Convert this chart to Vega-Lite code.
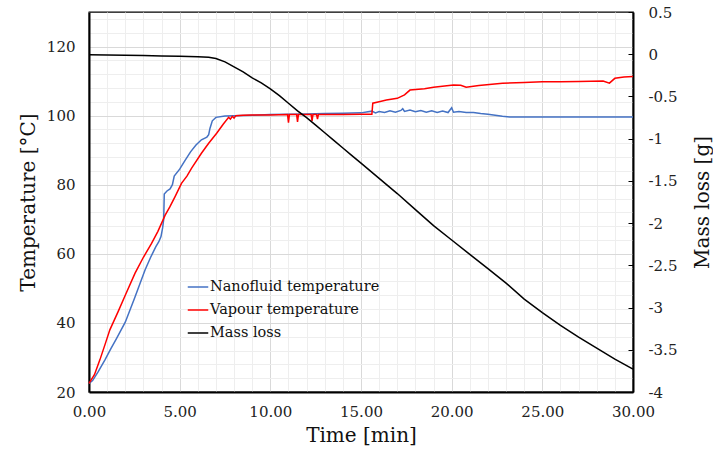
{
  "$schema": "https://vega.github.io/schema/vega-lite/v6.json",
  "width": 544,
  "height": 380,
  "autosize": "none",
  "padding": {"left": 89, "top": 12, "right": 80, "bottom": 66},
  "background": "white",
  "config": {
    "font": "DejaVu Serif",
    "view": {"stroke": "black", "strokeWidth": 1.3},
    "axis": {"labelFont": "DejaVu Serif", "titleFont": "DejaVu Serif", "labelColor": "#222222", "titleColor": "#111111", "titleFontWeight": "normal", "labelOverlap": false}
  },
  "datasets": {
    "temps": [
      {"series": "Nanofluid temperature", "t": 0, "temp": 22.5},
      {"series": "Nanofluid temperature", "t": 0.2, "temp": 23.3},
      {"series": "Nanofluid temperature", "t": 0.5, "temp": 25.8},
      {"series": "Nanofluid temperature", "t": 0.88, "temp": 29.3},
      {"series": "Nanofluid temperature", "t": 1.2, "temp": 32.5},
      {"series": "Nanofluid temperature", "t": 1.5, "temp": 35.3},
      {"series": "Nanofluid temperature", "t": 2.0, "temp": 40.2},
      {"series": "Nanofluid temperature", "t": 2.5, "temp": 47.0},
      {"series": "Nanofluid temperature", "t": 3.09, "temp": 55.3},
      {"series": "Nanofluid temperature", "t": 3.4, "temp": 59.0},
      {"series": "Nanofluid temperature", "t": 3.68, "temp": 62.0},
      {"series": "Nanofluid temperature", "t": 3.85, "temp": 63.5},
      {"series": "Nanofluid temperature", "t": 3.97, "temp": 65.0},
      {"series": "Nanofluid temperature", "t": 4.06, "temp": 67.5},
      {"series": "Nanofluid temperature", "t": 4.12, "temp": 70.0},
      {"series": "Nanofluid temperature", "t": 4.15, "temp": 77.3},
      {"series": "Nanofluid temperature", "t": 4.3, "temp": 78.2},
      {"series": "Nanofluid temperature", "t": 4.47, "temp": 78.8},
      {"series": "Nanofluid temperature", "t": 4.6, "temp": 80.0},
      {"series": "Nanofluid temperature", "t": 4.7, "temp": 82.5},
      {"series": "Nanofluid temperature", "t": 5.0, "temp": 84.5},
      {"series": "Nanofluid temperature", "t": 5.29, "temp": 87.0},
      {"series": "Nanofluid temperature", "t": 5.6, "temp": 89.5},
      {"series": "Nanofluid temperature", "t": 5.9, "temp": 91.5},
      {"series": "Nanofluid temperature", "t": 6.2, "temp": 93.0},
      {"series": "Nanofluid temperature", "t": 6.5, "temp": 93.8},
      {"series": "Nanofluid temperature", "t": 6.6, "temp": 94.5},
      {"series": "Nanofluid temperature", "t": 6.67, "temp": 96.3},
      {"series": "Nanofluid temperature", "t": 6.8, "temp": 98.5},
      {"series": "Nanofluid temperature", "t": 7.0, "temp": 99.5},
      {"series": "Nanofluid temperature", "t": 7.5, "temp": 99.9},
      {"series": "Nanofluid temperature", "t": 8.0, "temp": 100.0},
      {"series": "Nanofluid temperature", "t": 9.0, "temp": 100.1},
      {"series": "Nanofluid temperature", "t": 10.0, "temp": 100.3},
      {"series": "Nanofluid temperature", "t": 11.0, "temp": 100.4},
      {"series": "Nanofluid temperature", "t": 12.0, "temp": 100.5},
      {"series": "Nanofluid temperature", "t": 13.0, "temp": 100.6},
      {"series": "Nanofluid temperature", "t": 14.0, "temp": 100.7},
      {"series": "Nanofluid temperature", "t": 15.0, "temp": 100.8},
      {"series": "Nanofluid temperature", "t": 15.6, "temp": 101.3},
      {"series": "Nanofluid temperature", "t": 15.8, "temp": 100.8},
      {"series": "Nanofluid temperature", "t": 16.0, "temp": 101.2},
      {"series": "Nanofluid temperature", "t": 16.3, "temp": 100.9},
      {"series": "Nanofluid temperature", "t": 16.6, "temp": 101.4},
      {"series": "Nanofluid temperature", "t": 16.9, "temp": 101.0},
      {"series": "Nanofluid temperature", "t": 17.2, "temp": 101.5},
      {"series": "Nanofluid temperature", "t": 17.3, "temp": 102.0},
      {"series": "Nanofluid temperature", "t": 17.4, "temp": 101.2},
      {"series": "Nanofluid temperature", "t": 17.7, "temp": 101.6},
      {"series": "Nanofluid temperature", "t": 18.0, "temp": 101.1},
      {"series": "Nanofluid temperature", "t": 18.3, "temp": 101.5},
      {"series": "Nanofluid temperature", "t": 18.6, "temp": 101.0},
      {"series": "Nanofluid temperature", "t": 18.9, "temp": 101.4},
      {"series": "Nanofluid temperature", "t": 19.2, "temp": 100.9},
      {"series": "Nanofluid temperature", "t": 19.5, "temp": 101.3},
      {"series": "Nanofluid temperature", "t": 19.8, "temp": 100.9},
      {"series": "Nanofluid temperature", "t": 20.0, "temp": 102.3},
      {"series": "Nanofluid temperature", "t": 20.1, "temp": 101.0},
      {"series": "Nanofluid temperature", "t": 20.4, "temp": 101.2},
      {"series": "Nanofluid temperature", "t": 20.8, "temp": 100.9},
      {"series": "Nanofluid temperature", "t": 21.2, "temp": 100.9},
      {"series": "Nanofluid temperature", "t": 21.6, "temp": 100.6},
      {"series": "Nanofluid temperature", "t": 22.0, "temp": 100.4},
      {"series": "Nanofluid temperature", "t": 22.4, "temp": 100.1},
      {"series": "Nanofluid temperature", "t": 22.8, "temp": 99.8},
      {"series": "Nanofluid temperature", "t": 23.2, "temp": 99.6},
      {"series": "Nanofluid temperature", "t": 24.0, "temp": 99.6},
      {"series": "Nanofluid temperature", "t": 30.0, "temp": 99.6},
      {"series": "Vapour temperature", "t": 0, "temp": 22.5},
      {"series": "Vapour temperature", "t": 0.3, "temp": 25.0},
      {"series": "Vapour temperature", "t": 0.6, "temp": 29.3},
      {"series": "Vapour temperature", "t": 0.9, "temp": 34.0},
      {"series": "Vapour temperature", "t": 1.15, "temp": 38.0},
      {"series": "Vapour temperature", "t": 1.6, "temp": 43.2},
      {"series": "Vapour temperature", "t": 2.0, "temp": 48.0},
      {"series": "Vapour temperature", "t": 2.54, "temp": 54.4},
      {"series": "Vapour temperature", "t": 3.0, "temp": 59.0},
      {"series": "Vapour temperature", "t": 3.45, "temp": 63.0},
      {"series": "Vapour temperature", "t": 3.8, "temp": 66.5},
      {"series": "Vapour temperature", "t": 4.2, "temp": 71.2},
      {"series": "Vapour temperature", "t": 4.45, "temp": 73.5},
      {"series": "Vapour temperature", "t": 4.74, "temp": 76.5},
      {"series": "Vapour temperature", "t": 5.1, "temp": 80.4},
      {"series": "Vapour temperature", "t": 5.4, "temp": 82.5},
      {"series": "Vapour temperature", "t": 5.66, "temp": 84.8},
      {"series": "Vapour temperature", "t": 6.2, "temp": 89.1},
      {"series": "Vapour temperature", "t": 6.6, "temp": 92.0},
      {"series": "Vapour temperature", "t": 7.04, "temp": 94.9},
      {"series": "Vapour temperature", "t": 7.4, "temp": 97.5},
      {"series": "Vapour temperature", "t": 7.7, "temp": 99.5},
      {"series": "Vapour temperature", "t": 7.8, "temp": 99.0},
      {"series": "Vapour temperature", "t": 7.9, "temp": 99.8},
      {"series": "Vapour temperature", "t": 8.0, "temp": 99.3},
      {"series": "Vapour temperature", "t": 8.1, "temp": 100.0},
      {"series": "Vapour temperature", "t": 8.5, "temp": 100.1},
      {"series": "Vapour temperature", "t": 9.0, "temp": 100.2},
      {"series": "Vapour temperature", "t": 10.0, "temp": 100.2},
      {"series": "Vapour temperature", "t": 10.95, "temp": 100.3},
      {"series": "Vapour temperature", "t": 11.0, "temp": 98.0},
      {"series": "Vapour temperature", "t": 11.05, "temp": 100.3},
      {"series": "Vapour temperature", "t": 11.45, "temp": 100.3},
      {"series": "Vapour temperature", "t": 11.5, "temp": 98.2},
      {"series": "Vapour temperature", "t": 11.55, "temp": 100.3},
      {"series": "Vapour temperature", "t": 12.25, "temp": 100.3},
      {"series": "Vapour temperature", "t": 12.3, "temp": 98.5},
      {"series": "Vapour temperature", "t": 12.35, "temp": 100.3},
      {"series": "Vapour temperature", "t": 12.55, "temp": 100.3},
      {"series": "Vapour temperature", "t": 12.6, "temp": 99.0},
      {"series": "Vapour temperature", "t": 12.65, "temp": 100.3},
      {"series": "Vapour temperature", "t": 14.0, "temp": 100.3},
      {"series": "Vapour temperature", "t": 15.0, "temp": 100.4},
      {"series": "Vapour temperature", "t": 15.6, "temp": 100.4},
      {"series": "Vapour temperature", "t": 15.65, "temp": 103.6},
      {"series": "Vapour temperature", "t": 16.0, "temp": 104.0},
      {"series": "Vapour temperature", "t": 16.4, "temp": 104.5},
      {"series": "Vapour temperature", "t": 17.0, "temp": 105.0},
      {"series": "Vapour temperature", "t": 17.4, "temp": 106.0},
      {"series": "Vapour temperature", "t": 17.7, "temp": 107.4},
      {"series": "Vapour temperature", "t": 18.5, "temp": 107.8},
      {"series": "Vapour temperature", "t": 19.0, "temp": 108.2},
      {"series": "Vapour temperature", "t": 20.1, "temp": 108.9},
      {"series": "Vapour temperature", "t": 20.5, "temp": 108.8},
      {"series": "Vapour temperature", "t": 20.8, "temp": 108.2},
      {"series": "Vapour temperature", "t": 21.5, "temp": 108.7},
      {"series": "Vapour temperature", "t": 22.8, "temp": 109.4},
      {"series": "Vapour temperature", "t": 24.0, "temp": 109.6},
      {"series": "Vapour temperature", "t": 25.0, "temp": 109.8},
      {"series": "Vapour temperature", "t": 26.0, "temp": 109.8},
      {"series": "Vapour temperature", "t": 27.0, "temp": 109.9},
      {"series": "Vapour temperature", "t": 28.35, "temp": 110.0},
      {"series": "Vapour temperature", "t": 28.7, "temp": 109.4},
      {"series": "Vapour temperature", "t": 29.0, "temp": 110.8},
      {"series": "Vapour temperature", "t": 29.5, "temp": 111.2},
      {"series": "Vapour temperature", "t": 30.0, "temp": 111.3}
    ],
    "mass": [
      {"series": "Mass loss", "t": 0, "mass": -0.005},
      {"series": "Mass loss", "t": 1, "mass": -0.008},
      {"series": "Mass loss", "t": 2, "mass": -0.012},
      {"series": "Mass loss", "t": 3, "mass": -0.016},
      {"series": "Mass loss", "t": 4, "mass": -0.02},
      {"series": "Mass loss", "t": 5, "mass": -0.024},
      {"series": "Mass loss", "t": 6, "mass": -0.03},
      {"series": "Mass loss", "t": 6.6, "mass": -0.035},
      {"series": "Mass loss", "t": 7.0, "mass": -0.05},
      {"series": "Mass loss", "t": 7.5, "mass": -0.09},
      {"series": "Mass loss", "t": 8.0, "mass": -0.15},
      {"series": "Mass loss", "t": 8.5, "mass": -0.21},
      {"series": "Mass loss", "t": 9.0, "mass": -0.28},
      {"series": "Mass loss", "t": 9.5, "mass": -0.34},
      {"series": "Mass loss", "t": 10.0, "mass": -0.41},
      {"series": "Mass loss", "t": 10.5, "mass": -0.49},
      {"series": "Mass loss", "t": 11.0, "mass": -0.58},
      {"series": "Mass loss", "t": 11.5, "mass": -0.67},
      {"series": "Mass loss", "t": 12.0, "mass": -0.75},
      {"series": "Mass loss", "t": 12.5, "mass": -0.84},
      {"series": "Mass loss", "t": 13.0, "mass": -0.93},
      {"series": "Mass loss", "t": 13.5, "mass": -1.02},
      {"series": "Mass loss", "t": 14.0, "mass": -1.11},
      {"series": "Mass loss", "t": 14.5, "mass": -1.2},
      {"series": "Mass loss", "t": 15.0, "mass": -1.29},
      {"series": "Mass loss", "t": 16.0, "mass": -1.47},
      {"series": "Mass loss", "t": 17.0, "mass": -1.65},
      {"series": "Mass loss", "t": 18.0, "mass": -1.84},
      {"series": "Mass loss", "t": 19.0, "mass": -2.03},
      {"series": "Mass loss", "t": 20.0, "mass": -2.2},
      {"series": "Mass loss", "t": 21.0, "mass": -2.37},
      {"series": "Mass loss", "t": 22.0, "mass": -2.54},
      {"series": "Mass loss", "t": 23.0, "mass": -2.71},
      {"series": "Mass loss", "t": 24.0, "mass": -2.9},
      {"series": "Mass loss", "t": 25.0, "mass": -3.06},
      {"series": "Mass loss", "t": 26.0, "mass": -3.21},
      {"series": "Mass loss", "t": 27.0, "mass": -3.35},
      {"series": "Mass loss", "t": 28.0, "mass": -3.48},
      {"series": "Mass loss", "t": 29.0, "mass": -3.61},
      {"series": "Mass loss", "t": 30.0, "mass": -3.73}
    ]
  },
  "layer": [
    {
      "data": {"name": "temps"},
      "mark": {"type": "line", "strokeWidth": 1.5},
      "encoding": {
        "x": {
          "field": "t", "type": "quantitative",
          "scale": {"domain": [0, 30], "nice": false},
          "axis": {
            "values": [0,1,2,3,4,5,6,7,8,9,10,11,12,13,14,15,16,17,18,19,20,21,22,23,24,25,26,27,28,29,30],
            "labelExpr": "indexof([0,5,10,15,20,25,30], datum.value) >= 0 ? format(datum.value, '.2f') : ''",
            "gridColor": {"condition": {"test": "indexof([0,5,10,15,20,25,30], datum.value) >= 0", "value": "#d9d9d9"}, "value": "#eeeeee"},
            "labelOverlap": false,
            "ticks": false,
            "domainColor": "black", "domainWidth": 2,
            "labelFontSize": 15, "labelPadding": 12, "labelFlush": false,
            "title": "Time [min]", "titleFontSize": 20, "titlePadding": 6
          }
        },
        "y": {
          "field": "temp", "type": "quantitative",
          "scale": {"domain": [20, 130], "nice": false, "zero": false},
          "axis": {
            "values": [20,24,28,32,36,40,44,48,52,56,60,64,68,72,76,80,84,88,92,96,100,104,108,112,116,120,124,128],
            "labelExpr": "datum.value % 20 == 0 ? datum.label : ''",
            "gridColor": {"condition": {"test": "datum.value % 20 == 0", "value": "#d9d9d9"}, "value": "#eeeeee"},
            "labelOverlap": false,
            "ticks": false,
            "domainColor": "black", "domainWidth": 2,
            "labelFontSize": 15, "labelPadding": 14,
            "title": "Temperature [°C]", "titleFontSize": 20, "titlePadding": 8
          }
        },
        "color": {
          "field": "series", "type": "nominal",
          "scale": {"domain": ["Nanofluid temperature", "Vapour temperature", "Mass loss"], "range": ["#4472C4", "#FF0000", "#000000"]},
          "legend": {
            "orient": "none", "legendX": 98, "legendY": 264, "title": null,
            "symbolType": "stroke", "symbolSize": 420, "symbolStrokeWidth": 1.5,
            "labelFont": "DejaVu Serif", "labelFontSize": 14.5, "labelColor": "#111111", "labelLimit": 400,
            "labelOffset": 1, "rowPadding": 5, "padding": 0
          }
        }
      }
    },
    {
      "data": {"name": "mass"},
      "mark": {"type": "line", "strokeWidth": 1.5},
      "encoding": {
        "x": {
          "field": "t", "type": "quantitative",
          "scale": {"domain": [0, 30], "nice": false},
          "axis": {
            "values": [0,1,2,3,4,5,6,7,8,9,10,11,12,13,14,15,16,17,18,19,20,21,22,23,24,25,26,27,28,29,30],
            "labelExpr": "indexof([0,5,10,15,20,25,30], datum.value) >= 0 ? format(datum.value, '.2f') : ''",
            "gridColor": {"condition": {"test": "indexof([0,5,10,15,20,25,30], datum.value) >= 0", "value": "#d9d9d9"}, "value": "#eeeeee"},
            "labelOverlap": false,
            "ticks": false,
            "domainColor": "black", "domainWidth": 2,
            "labelFontSize": 15, "labelPadding": 12, "labelFlush": false,
            "title": "Time [min]", "titleFontSize": 20, "titlePadding": 6
          }
        },
        "y": {
          "field": "mass", "type": "quantitative",
          "scale": {"domain": [-4, 0.5], "nice": false, "zero": false},
          "axis": {
            "orient": "right",
            "values": [-4,-3.5,-3,-2.5,-2,-1.5,-1,-0.5,0,0.5],
            "labelExpr": "'' + datum.value",
            "grid": false,
            "tickSize": -5, "tickColor": "black",
            "domainColor": "black", "domainWidth": 2,
            "labelFontSize": 15, "labelPadding": 20,
            "title": "Mass loss [g]", "titleFontSize": 20, "titleAngle": 270,
            "titleX": 69, "titleY": 190, "titleAlign": "center", "titleBaseline": "middle"
          }
        },
        "color": {"field": "series", "type": "nominal"}
      }
    }
  ],
  "resolve": {"scale": {"y": "independent"}}
}
